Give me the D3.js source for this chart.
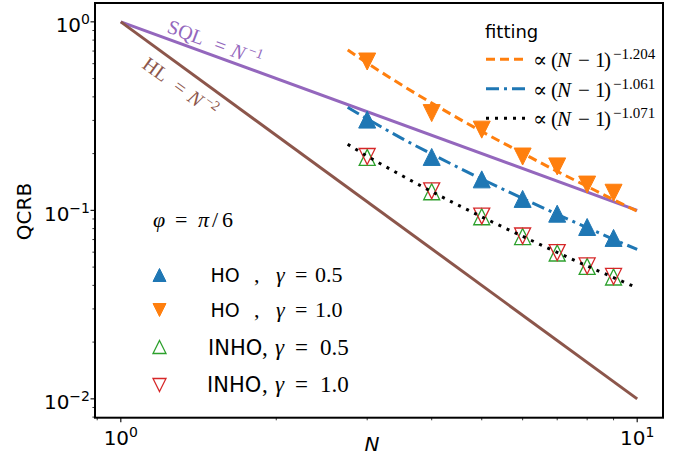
<!DOCTYPE html>
<html lang="en">
<head>
<meta charset="UTF-8">
<script src="https://d3js.org/d3.v7.min.js"></script>
<title>QCRB scaling</title>
<style>
	body { margin: 0; background: #fff; }
	svg { display: block; }
	.sans { font-family: "DejaVu Sans", sans-serif; }
	.math { font-family: "Liberation Serif", "DejaVu Serif", serif; }
</style>
</head>
<body>
<script>
	// particle numbers where QCRB was computed
	const Ns = [3, 4, 5, 6, 7, 8, 9];
	const hoG05 = [0.303, 0.192, 0.146, 0.115, 0.096, 0.0816, 0.0714];
	const hoG10 = [0.616, 0.328, 0.268, 0.193, 0.171, 0.137, 0.124];
	const inhoG05 = [0.191, 0.1255, 0.0925, 0.0726, 0.0594, 0.0504, 0.0443];
	const inhoG10 = [0.193, 0.127, 0.0932, 0.0731, 0.0597, 0.0507, 0.0446];

	// reference limits
	const limitN = [1, 10];
	const sqlVals = [1, 0.1];
	const hlVals = [1, 0.01];

	// fitted curves
	const fitN = [2.75, 3, 3.5, 4, 5, 6, 7, 8, 9, 10];
	const fitHoG10 = [0.710, 0.605, 0.462, 0.371, 0.262, 0.201, 0.161, 0.134, 0.114, 0.0989];
	const fitHoG05 = [0.352, 0.306, 0.241, 0.199, 0.1466, 0.1157, 0.0953, 0.0810, 0.0702, 0.0620];
	const fitInho = [0.224, 0.194, 0.153, 0.1258, 0.0924, 0.0728, 0.0599, 0.0507, 0.0440, 0.0388];
	const fitLabels = ["\u22121.204", "\u22121.061", "\u22121.071"];

	const legNames = ["HO", "HO", "INHO", "INHO"];
	const legGammas = ["0.5", "1.0", "0.5", "1.0"];

	const xMajor = [1, 10];
	const yMajor = [1, 0.1, 0.01];
	const xExp = ["0", "1"];
	const yExp = ["0", "\u22121", "\u22122"];

	const W = 689, H = 460;
	const box = { left: 95, right: 663, top: 3, bottom: 417.7 };

	const svg = d3.select("body").append("svg")
		.attr("width", W)
		.attr("height", H);

	const x = d3.scaleLog()
		.domain([Math.pow(10, -0.05), Math.pow(10, 1.05)])
		.range([box.left, box.right]);
	const y = d3.scaleLog()
		.domain([Math.pow(10, -2.1), Math.pow(10, 0.1)])
		.range([box.bottom, box.top]);

	// triangle marker, matplotlib style (bbox centred)
	function tri(size, up) {
		const h = size / 2, w = size / 2;
		return up
			? `M0,${-h}L${w},${h}L${-w},${h}Z`
			: `M0,${h}L${w},${-h}L${-w},${-h}Z`;
	}

	// text made of pieces placed at given x offsets
	function pieces(sel, parts) {
		parts.forEach(p => {
			const t = sel.append("tspan").attr("x", p.x).text(p.t);
			t.attr("y", p.dy || 0);
			if (p.it) t.attr("font-style", "italic");
			if (p.fs) t.attr("font-size", p.fs);
		});
	}

	const line = d3.line().x(d => x(d[0])).y(d => y(d[1]));
	const curve = d3.line().x(d => x(d[0])).y(d => y(d[1])).curve(d3.curveMonotoneX);

	/*---------------- SQL / HL limits ----------------*/
	svg.append("path")
		.attr("d", line(d3.zip(limitN, sqlVals)))
		.attr("fill", "none").attr("stroke", "#9467bd").attr("stroke-width", 3);
	svg.append("path")
		.attr("d", line(d3.zip(limitN, hlVals)))
		.attr("fill", "none").attr("stroke", "#8c564b").attr("stroke-width", 3);

	/*---------------- markers ----------------*/
	const series = [
		{ vals: hoG05, up: true, fill: "#1f77b4", stroke: "#1f77b4", size: 17, sw: 1 },
		{ vals: hoG10, up: false, fill: "#ff7f0e", stroke: "#ff7f0e", size: 17, sw: 1 },
		{ vals: inhoG05, up: true, fill: "none", stroke: "#2ca02c", size: 16, sw: 1.3 },
		{ vals: inhoG10, up: false, fill: "none", stroke: "#d62728", size: 16, sw: 1.3 }
	];
	series.forEach(s => {
		svg.append("g").selectAll("path")
			.data(d3.zip(Ns, s.vals))
			.enter().append("path")
			.attr("transform", d => `translate(${x(d[0])},${y(d[1])})`)
			.attr("d", tri(s.size, s.up))
			.attr("fill", s.fill)
			.attr("stroke", s.stroke)
			.attr("stroke-width", s.sw);
	});

	/*---------------- fitted lines ----------------*/
	const fits = [
		{ vals: fitHoG10, color: "#ff7f0e", dash: "9,5" },
		{ vals: fitHoG05, color: "#1f77b4", dash: "13,5,3,5" },
		{ vals: fitInho, color: "#000", dash: "3,6" }
	];
	fits.forEach(f => {
		svg.append("path")
			.attr("d", curve(d3.zip(fitN, f.vals)))
			.attr("fill", "none")
			.attr("stroke", f.color)
			.attr("stroke-width", 3)
			.attr("stroke-dasharray", f.dash);
	});

	/*---------------- frame and ticks ----------------*/
	svg.append("rect")
		.attr("x", box.left).attr("y", box.top)
		.attr("width", box.right - box.left).attr("height", box.bottom - box.top)
		.attr("fill", "none").attr("stroke", "#000").attr("stroke-width", 2);

	const [x0, x1] = x.domain();
	const xMinor = [];
	for (let p = -1; p <= 1; p++)
		for (let m = 2; m <= 9; m++) {
			const v = m * Math.pow(10, p);
			if (v >= x0 && v <= x1) xMinor.push(v);
		}
	const [y0, y1] = y.domain();
	const yMinor = [];
	for (let p = -3; p <= 0; p++)
		for (let m = 2; m <= 9; m++) {
			const v = m * Math.pow(10, p);
			if (v >= y0 && v <= y1) yMinor.push(v);
		}

	const ticks = svg.append("g").attr("stroke", "#000");
	xMajor.forEach(v => ticks.append("line")
		.attr("x1", x(v)).attr("x2", x(v)).attr("y1", box.bottom).attr("y2", box.bottom + 4.5).attr("stroke-width", 1.1));
	xMinor.forEach(v => ticks.append("line")
		.attr("x1", x(v)).attr("x2", x(v)).attr("y1", box.bottom).attr("y2", box.bottom + 2.6).attr("stroke-width", 0.8));
	yMajor.forEach(v => ticks.append("line")
		.attr("y1", y(v)).attr("y2", y(v)).attr("x1", box.left).attr("x2", box.left - 4.5).attr("stroke-width", 1.1));
	yMinor.forEach(v => ticks.append("line")
		.attr("y1", y(v)).attr("y2", y(v)).attr("x1", box.left).attr("x2", box.left - 2.6).attr("stroke-width", 0.8));

	xMajor.forEach((v, i) => {
		const t = svg.append("text").attr("class", "sans")
			.attr("x", x(v)).attr("y", 445).attr("text-anchor", "middle")
			.attr("font-size", 20);
		t.append("tspan").text("10");
		t.append("tspan").attr("dy", -8).attr("font-size", 14).text(xExp[i]);
	});
	yMajor.forEach((v, i) => {
		const t = svg.append("text").attr("class", "sans")
			.attr("x", 90).attr("y", y(v) + 10.5).attr("text-anchor", "end")
			.attr("font-size", 20);
		t.append("tspan").text("10");
		t.append("tspan").attr("dy", -8).attr("font-size", 14).text(yExp[i]);
	});

	svg.append("text").attr("class", "sans")
		.attr("x", 372).attr("y", 451).attr("text-anchor", "middle")
		.attr("font-size", 20).attr("font-style", "italic").text("N");
	svg.append("text").attr("class", "sans")
		.attr("transform", "translate(31,211.5) rotate(-90)")
		.attr("text-anchor", "middle").attr("font-size", 20).text("QCRB");

	/*---------------- annotations ----------------*/
	const sqlT = svg.append("g").attr("transform", "translate(166,32) rotate(20.5)")
		.append("text").attr("class", "math").attr("font-size", 20).attr("fill", "#9467bd");
	pieces(sqlT, [
		{ x: 0, t: "SQL" }, { x: 50, t: "=" }, { x: 68, t: "N", it: true },
		{ x: 84, t: "\u22121", fs: 14, dy: -8 }
	]);

	const hlT = svg.append("g").attr("transform", "translate(141,67) rotate(36)")
		.append("text").attr("class", "math").attr("font-size", 20).attr("fill", "#8c564b");
	pieces(hlT, [
		{ x: 0, t: "HL" }, { x: 38, t: "=" }, { x: 56, t: "N", it: true },
		{ x: 72, t: "\u22122", fs: 14, dy: -8 }
	]);

	/*---------------- left legend ----------------*/
	const phi = svg.append("g").attr("transform", "translate(0,227)")
		.append("text").attr("class", "math").attr("font-size", 22);
	pieces(phi, [
		{ x: 153, t: "\u03c6", it: true }, { x: 175, t: "=" }, { x: 198, t: "\u03c0", it: true },
		{ x: 212, t: "/" }, { x: 222, t: "6" }
	]);

	const legRows = [
		{ cy: 275, nameX: 210.5, nameFs: 19, mathFs: 22, xs: [254, 276, 295, 315], base: 6.5 },
		{ cy: 310, nameX: 210.5, nameFs: 19, mathFs: 22, xs: [254, 276, 295, 315], base: 6.5 },
		{ cy: 347, nameX: 208, nameFs: 21, mathFs: 23, xs: [262, 275, 295, 320], base: 8 },
		{ cy: 385, nameX: 207, nameFs: 21, mathFs: 23, xs: [262, 275, 295, 320], base: 7 }
	];
	legRows.forEach((r, i) => {
		const s = series[i];
		svg.append("path")
			.attr("transform", `translate(159.5,${r.cy})`)
			.attr("d", tri(13, s.up))
			.attr("fill", s.fill).attr("stroke", s.stroke).attr("stroke-width", s.sw);
		svg.append("text").attr("class", "sans")
			.attr("x", r.nameX).attr("y", r.cy + r.base).attr("font-size", r.nameFs).text(legNames[i]);
		const m = svg.append("g").attr("transform", `translate(0,${r.cy + r.base})`)
			.append("text").attr("class", "math").attr("font-size", r.mathFs);
		pieces(m, [
			{ x: r.xs[0], t: "," }, { x: r.xs[1], t: "\u03b3", it: true },
			{ x: r.xs[2], t: "=" }, { x: r.xs[3], t: legGammas[i] }
		]);
	});

	/*---------------- fitting legend ----------------*/
	svg.append("text").attr("class", "sans")
		.attr("x", 485).attr("y", 38).attr("font-size", 18).text("fitting");
	fits.forEach((f, i) => {
		const ly = 59.3 + i * 29.5;
		svg.append("line")
			.attr("x1", 486).attr("x2", 525).attr("y1", ly).attr("y2", ly)
			.attr("stroke", f.color).attr("stroke-width", 3)
			.attr("stroke-dasharray", f.dash);
		const t = svg.append("g").attr("transform", `translate(0,${ly + 8})`)
			.append("text").attr("class", "math").attr("font-size", 21);
		pieces(t, [
			{ x: 533, t: "\u221d" }, { x: 551, t: "(" }, { x: 557, t: "N", it: true },
			{ x: 578, t: "\u2212" }, { x: 595, t: "1" }, { x: 604, t: ")" },
			{ x: 613, t: fitLabels[i], fs: 15, dy: -8 }
		]);
	});
</script>
</body>
</html>
